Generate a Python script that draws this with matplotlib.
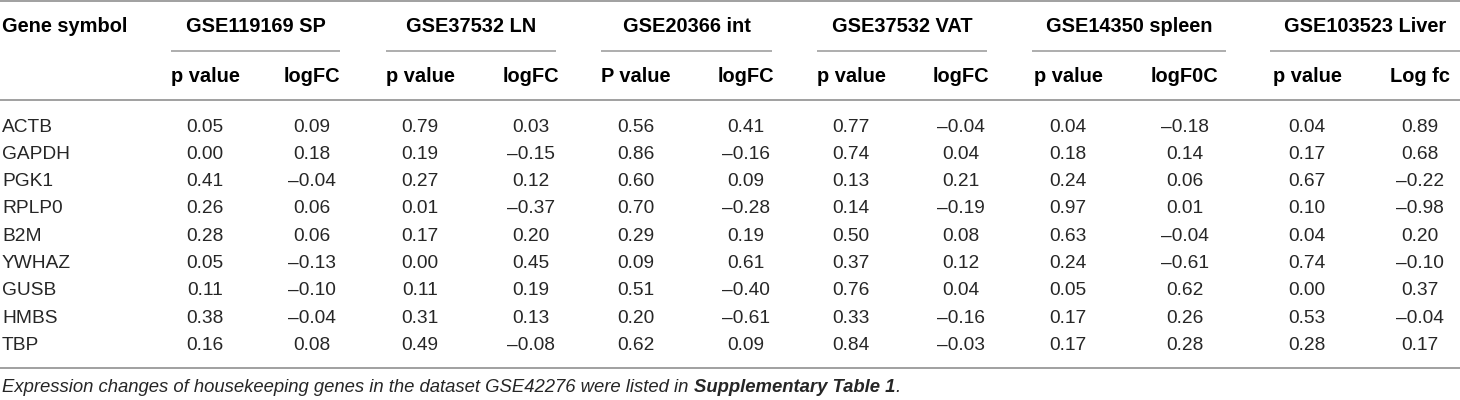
import matplotlib
matplotlib.use("Agg")
import matplotlib.pyplot as plt

plt.rcParams['font.family'] = ['Liberation Sans', 'DejaVu Sans']

# table contents
genes = ["ACTB", "GAPDH", "PGK1", "RPLP0", "B2M", "YWHAZ", "GUSB", "HMBS", "TBP"]
datasets = ["GSE119169 SP", "GSE37532 LN", "GSE20366 int",
            "GSE37532 VAT", "GSE14350 spleen", "GSE103523 Liver"]
p_labels = ["p value", "p value", "P value", "p value", "p value", "p value"]
fc_labels = ["logFC", "logFC", "logFC", "logFC", "logF0C", "Log fc"]

sp_p = [0.05, 0.00, 0.41, 0.26, 0.28, 0.05, 0.11, 0.38, 0.16]
sp_fc = [0.09, 0.18, -0.04, 0.06, 0.06, -0.13, -0.10, -0.04, 0.08]
ln_p = [0.79, 0.19, 0.27, 0.01, 0.17, 0.00, 0.11, 0.31, 0.49]
ln_fc = [0.03, -0.15, 0.12, -0.37, 0.20, 0.45, 0.19, 0.13, -0.08]
int_p = [0.56, 0.86, 0.60, 0.70, 0.29, 0.09, 0.51, 0.20, 0.62]
int_fc = [0.41, -0.16, 0.09, -0.28, 0.19, 0.61, -0.40, -0.61, 0.09]
vat_p = [0.77, 0.74, 0.13, 0.14, 0.50, 0.37, 0.76, 0.33, 0.84]
vat_fc = [-0.04, 0.04, 0.21, -0.19, 0.08, 0.12, 0.04, -0.16, -0.03]
spleen_p = [0.04, 0.18, 0.24, 0.97, 0.63, 0.24, 0.05, 0.17, 0.17]
spleen_fc = [-0.18, 0.14, 0.06, 0.01, -0.04, -0.61, 0.62, 0.26, 0.28]
liver_p = [0.04, 0.17, 0.67, 0.10, 0.04, 0.74, 0.00, 0.53, 0.28]
liver_fc = [0.89, 0.68, -0.22, -0.98, 0.20, -0.10, 0.37, -0.04, 0.17]

p_cols = [sp_p, ln_p, int_p, vat_p, spleen_p, liver_p]
fc_cols = [sp_fc, ln_fc, int_fc, vat_fc, spleen_fc, liver_fc]

footnote = "Expression changes of housekeeping genes in the dataset GSE42276 were listed in "
footnote_bold = "Supplementary Table 1"

# layout (pixels)
W, H = 1460, 400
spans = [(171, 340), (386, 556), (601, 772), (817, 987), (1032, 1226), (1270, 1460)]
p_x = [205, 420, 636, 851, 1068, 1307]
fc_x = [312, 531, 746, 961, 1185, 1420]
y_head, y_sub, y_first, row_h = 27, 77, 127, 27.3
y_bottom, y_note = 368, 388
rule_col = "#a0a0a0"
fs_head = 14.4
fs = 13.8
txt_col = "#262626"

fig = plt.figure(figsize=(W / 100, H / 100), dpi=100)
ax = fig.add_axes([0, 0, 1, 1])
ax.set_xlim(0, W)
ax.set_ylim(H, 0)
ax.axis("off")

# rules
for y in [1, 100, y_bottom]:
    ax.plot([0, W], [y, y], color=rule_col, lw=1.4, solid_capstyle="butt")
for x0, x1 in spans:
    ax.plot([x0, x1], [51, 51], color=rule_col, lw=1.2, solid_capstyle="butt")

# header
ax.text(2, y_head, "Gene symbol", fontsize=fs_head, fontweight="bold", va="center", ha="left")
for (x0, x1), name in zip(spans, datasets):
    ax.text((x0 + x1) / 2, y_head, name, fontsize=fs_head, fontweight="bold",
            va="center", ha="center")
for i in range(len(datasets)):
    ax.text(p_x[i], y_sub, p_labels[i], fontsize=fs_head, fontweight="bold", va="center", ha="center")
    ax.text(fc_x[i], y_sub, fc_labels[i], fontsize=fs_head, fontweight="bold", va="center", ha="center")

# body
def fmt(v):
    return f"{v:.2f}".replace("-", "\u2013")

for r, g in enumerate(genes):
    y = y_first + r * row_h
    ax.text(2, y, g, fontsize=fs, va="center", ha="left", color=txt_col)
    for i in range(len(datasets)):
        ax.text(p_x[i], y, fmt(p_cols[i][r]), fontsize=fs, va="center", ha="center", color=txt_col)
        ax.text(fc_x[i], y, fmt(fc_cols[i][r]), fontsize=fs, va="center", ha="center", color=txt_col)

# footnote with bold part
t1 = ax.text(2, y_note, footnote, fontsize=13.3, style="italic", va="center", ha="left", color=txt_col)
fig.canvas.draw()
x_next = t1.get_window_extent().x1
t2 = ax.text(x_next, y_note, footnote_bold, fontsize=13.3, style="italic", fontweight="bold",
             va="center", ha="left", color=txt_col)
fig.canvas.draw()
ax.text(t2.get_window_extent().x1, y_note, ".", fontsize=13.3, style="italic",
        va="center", ha="left", color=txt_col)

fig.savefig("out.png", dpi=100)
